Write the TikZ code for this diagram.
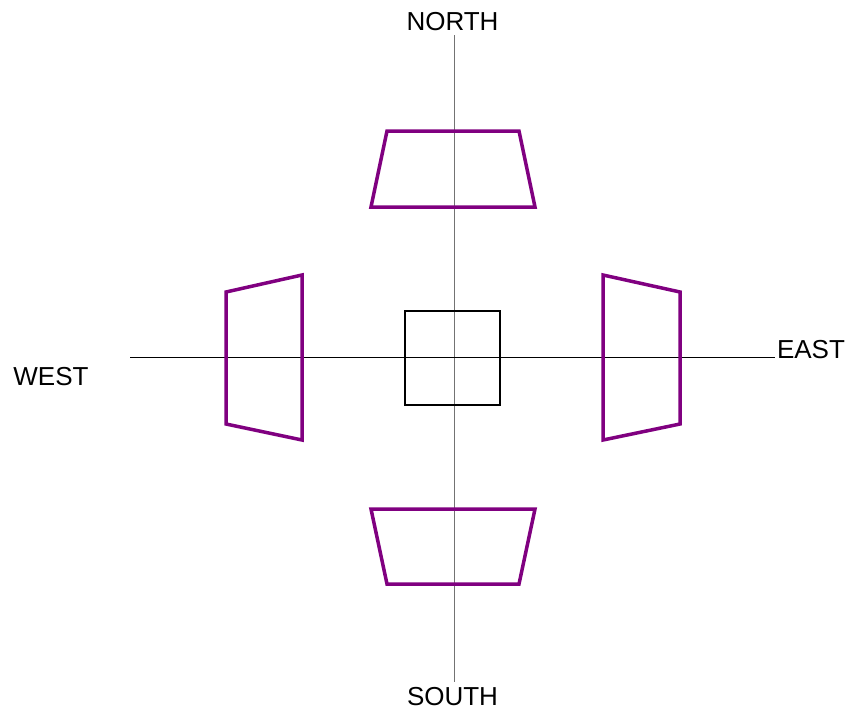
\documentclass[tikz,border=0pt]{standalone}
\usepackage{fontspec}
\setmainfont{Liberation Sans}
\definecolor{trap}{HTML}{800080}
\tikzset{
  axis/.style={line width=1pt},
  trapbox/.style={draw=trap, line width=3.5pt, line join=miter},
  centerbox/.style={draw=black, line width=2pt},
  lbl/.style={inner sep=0pt, anchor=base, font=\fontsize{26}{30}\selectfont}
}
\begin{document}
\begin{tikzpicture}[x=1pt,y=-1pt]
\useasboundingbox (0,0) rectangle (848,713);
% axes
\coordinate (vt) at (454,35);
\coordinate (vb) at (454,682);
\coordinate (hl) at (130,357);
\coordinate (hr) at (775,357);
\draw[axis, black!55] (vt) -- (vb);
\draw[axis] (hl) -- (hr);
% center square
\draw[centerbox] (405,311) rectangle (500,405);
% north
\draw[trapbox] (387,131) -- (519,131) -- (535,207) -- (371,207) -- cycle;
% south
\draw[trapbox] (371,509) -- (535,509) -- (519,584) -- (387,584) -- cycle;
% west
\draw[trapbox] (226,292) -- (302,275) -- (302,440) -- (226,424) -- cycle;
% east
\draw[trapbox] (603,275) -- (680,292) -- (680,424) -- (603,440) -- cycle;
% labels
\node[lbl] (north) at (452.5,30) {NORTH};
\node[lbl] (south) at (452.5,705) {SOUTH};
\node[lbl] (west) at (51,385) {WEST};
\node[lbl] (east) at (811,358) {EAST};
\end{tikzpicture}
\end{document}
